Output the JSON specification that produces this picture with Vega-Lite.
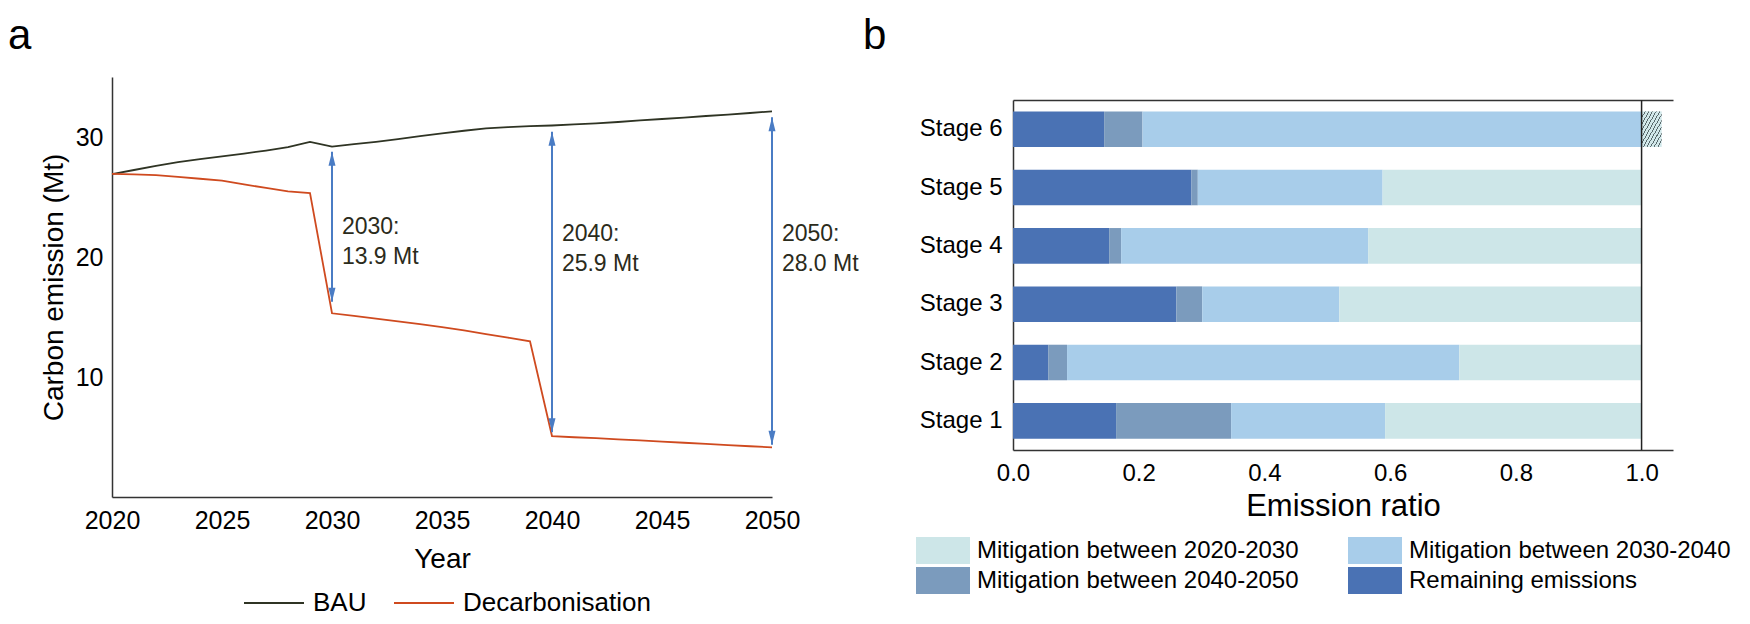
{
  "$schema": "https://vega.github.io/schema/vega-lite/v6.json",
  "padding": {"left": 8, "top": 14, "right": 0, "bottom": 0},
  "background": "white",
  "config": {
    "font": "Liberation Sans",
    "view": {"stroke": null},
    "axis": {"labelColor": "#000", "titleColor": "#000", "grid": false, "ticks": false, "domainColor": "#333", "domainWidth": 1.5, "titleFontWeight": "normal"},
    "legend": {"labelColor": "#000", "labelLimit": 500},
    "title": {"color": "#000", "fontWeight": "normal"}
  },
  "resolve": {"scale": {"color": "independent"}, "legend": {"color": "independent"}},
  "spacing": 4,
  "hconcat": [
    {
      "title": {"text": "a", "fontSize": 42, "anchor": "start", "frame": "group", "dx": -104, "offset": -14, "baseline": "alphabetic"},
      "width": 660,
      "height": 420,
      "layer": [
        {
          "data": {"values": [
            {"year": 2020, "value": 26.9, "series": "BAU"},
            {"year": 2021, "value": 27.25, "series": "BAU"},
            {"year": 2022, "value": 27.6, "series": "BAU"},
            {"year": 2023, "value": 27.9, "series": "BAU"},
            {"year": 2024, "value": 28.15, "series": "BAU"},
            {"year": 2025, "value": 28.38, "series": "BAU"},
            {"year": 2026, "value": 28.62, "series": "BAU"},
            {"year": 2027, "value": 28.87, "series": "BAU"},
            {"year": 2028, "value": 29.15, "series": "BAU"},
            {"year": 2029, "value": 29.6, "series": "BAU"},
            {"year": 2030, "value": 29.2, "series": "BAU"},
            {"year": 2031, "value": 29.4, "series": "BAU"},
            {"year": 2032, "value": 29.6, "series": "BAU"},
            {"year": 2033, "value": 29.83, "series": "BAU"},
            {"year": 2034, "value": 30.07, "series": "BAU"},
            {"year": 2035, "value": 30.3, "series": "BAU"},
            {"year": 2036, "value": 30.52, "series": "BAU"},
            {"year": 2037, "value": 30.72, "series": "BAU"},
            {"year": 2038, "value": 30.82, "series": "BAU"},
            {"year": 2039, "value": 30.9, "series": "BAU"},
            {"year": 2040, "value": 30.96, "series": "BAU"},
            {"year": 2041, "value": 31.05, "series": "BAU"},
            {"year": 2042, "value": 31.14, "series": "BAU"},
            {"year": 2043, "value": 31.25, "series": "BAU"},
            {"year": 2044, "value": 31.38, "series": "BAU"},
            {"year": 2045, "value": 31.5, "series": "BAU"},
            {"year": 2046, "value": 31.62, "series": "BAU"},
            {"year": 2047, "value": 31.75, "series": "BAU"},
            {"year": 2048, "value": 31.87, "series": "BAU"},
            {"year": 2049, "value": 32.0, "series": "BAU"},
            {"year": 2050, "value": 32.14, "series": "BAU"},
            {"year": 2020, "value": 26.92, "series": "Decarbonisation"},
            {"year": 2021, "value": 26.88, "series": "Decarbonisation"},
            {"year": 2022, "value": 26.83, "series": "Decarbonisation"},
            {"year": 2023, "value": 26.68, "series": "Decarbonisation"},
            {"year": 2024, "value": 26.52, "series": "Decarbonisation"},
            {"year": 2025, "value": 26.36, "series": "Decarbonisation"},
            {"year": 2026, "value": 26.05, "series": "Decarbonisation"},
            {"year": 2027, "value": 25.76, "series": "Decarbonisation"},
            {"year": 2028, "value": 25.47, "series": "Decarbonisation"},
            {"year": 2029, "value": 25.33, "series": "Decarbonisation"},
            {"year": 2030, "value": 15.31, "series": "Decarbonisation"},
            {"year": 2031, "value": 15.1, "series": "Decarbonisation"},
            {"year": 2032, "value": 14.87, "series": "Decarbonisation"},
            {"year": 2033, "value": 14.64, "series": "Decarbonisation"},
            {"year": 2034, "value": 14.4, "series": "Decarbonisation"},
            {"year": 2035, "value": 14.15, "series": "Decarbonisation"},
            {"year": 2036, "value": 13.88, "series": "Decarbonisation"},
            {"year": 2037, "value": 13.58, "series": "Decarbonisation"},
            {"year": 2038, "value": 13.28, "series": "Decarbonisation"},
            {"year": 2039, "value": 12.97, "series": "Decarbonisation"},
            {"year": 2040, "value": 5.08, "series": "Decarbonisation"},
            {"year": 2041, "value": 4.98, "series": "Decarbonisation"},
            {"year": 2042, "value": 4.9, "series": "Decarbonisation"},
            {"year": 2043, "value": 4.8, "series": "Decarbonisation"},
            {"year": 2044, "value": 4.72, "series": "Decarbonisation"},
            {"year": 2045, "value": 4.62, "series": "Decarbonisation"},
            {"year": 2046, "value": 4.52, "series": "Decarbonisation"},
            {"year": 2047, "value": 4.42, "series": "Decarbonisation"},
            {"year": 2048, "value": 4.33, "series": "Decarbonisation"},
            {"year": 2049, "value": 4.23, "series": "Decarbonisation"},
            {"year": 2050, "value": 4.14, "series": "Decarbonisation"}
          ]},
          "mark": {"type": "line", "strokeWidth": 1.8},
          "encoding": {
            "x": {"field": "year", "type": "quantitative", "scale": {"domain": [2020, 2050], "nice": false, "zero": false},
                  "axis": {"title": "Year", "values": [2020, 2025, 2030, 2035, 2040, 2045, 2050], "format": "d", "labelFontSize": 25, "labelPadding": 11, "titleFontSize": 28, "titlePadding": 12, "labelFlush": false}},
            "y": {"field": "value", "type": "quantitative", "scale": {"domain": [0, 35], "nice": false},
                  "axis": {"title": "Carbon emission (Mt)", "values": [10, 20, 30], "labelFontSize": 25, "labelPadding": 9, "titleFontSize": 28, "titlePadding": 7}},
            "color": {"field": "series", "type": "nominal",
                      "scale": {"domain": ["BAU", "Decarbonisation"], "range": ["#2f3424", "#cf4a1f"]},
                      "legend": {"title": null, "orient": "none", "legendX": 131, "legendY": 495, "direction": "horizontal",
                                 "symbolType": "stroke", "symbolSize": 3600, "symbolStrokeWidth": 2, "labelFontSize": 26,
                                 "labelOffset": 8, "columnPadding": 23}}
          }
        },
        {
          "data": {"values": [
            {"year": 2030, "lo": 16.28, "hi": 28.78},
            {"year": 2040, "lo": 5.39, "hi": 30.44},
            {"year": 2050, "lo": 4.36, "hi": 31.64}
          ]},
          "layer": [
            {"mark": {"type": "rule", "color": "#4a7cc4", "strokeWidth": 2},
             "encoding": {"x": {"field": "year", "type": "quantitative"}, "y": {"field": "lo", "type": "quantitative"}, "y2": {"field": "hi"}}},
            {"mark": {"type": "point", "shape": "M0,0L0.5,2L-0.5,2Z", "filled": true, "opacity": 1, "color": "#4a7cc4", "size": 196},
             "encoding": {"x": {"field": "year", "type": "quantitative"}, "y": {"field": "hi", "type": "quantitative"}}},
            {"mark": {"type": "point", "shape": "M0,0L0.5,-2L-0.5,-2Z", "filled": true, "opacity": 1, "color": "#4a7cc4", "size": 196},
             "encoding": {"x": {"field": "year", "type": "quantitative"}, "y": {"field": "lo", "type": "quantitative"}}}
          ]
        },
        {
          "data": {"values": [
            {"year": 2030.45, "value": 23.44, "t": ["2030:", "13.9 Mt"]},
            {"year": 2040.45, "value": 22.85, "t": ["2040:", "25.9 Mt"]},
            {"year": 2050.45, "value": 22.85, "t": ["2050:", "28.0 Mt"]}
          ]},
          "mark": {"type": "text", "align": "left", "baseline": "top", "fontSize": 23, "lineHeight": 30, "color": "#2b2b1b"},
          "encoding": {
            "x": {"field": "year", "type": "quantitative"},
            "y": {"field": "value", "type": "quantitative"},
            "text": {"field": "t"}
          }
        }
      ]
    },
    {
      "spacing": 0,
      "vconcat": [
        {
          "title": {"text": "b", "fontSize": 42, "anchor": "start", "frame": "group", "dx": -150, "offset": -14, "baseline": "alphabetic"},
          "width": 660,
          "height": 22,
          "data": {"values": [{"k": 1}]},
          "mark": {"type": "rule", "opacity": 0},
          "encoding": {}
        },
        {
          "width": 660,
          "height": 350,
          "layer": [
            {
              "data": {"values": [
                {"stage": "Stage 1", "category": "Remaining emissions", "start": 0, "end": 0.164},
                {"stage": "Stage 1", "category": "Mitigation between 2040-2050", "start": 0.164, "end": 0.347},
                {"stage": "Stage 1", "category": "Mitigation between 2030-2040", "start": 0.347, "end": 0.592},
                {"stage": "Stage 1", "category": "Mitigation between 2020-2030", "start": 0.592, "end": 1.0},
                {"stage": "Stage 2", "category": "Remaining emissions", "start": 0, "end": 0.056},
                {"stage": "Stage 2", "category": "Mitigation between 2040-2050", "start": 0.056, "end": 0.086},
                {"stage": "Stage 2", "category": "Mitigation between 2030-2040", "start": 0.086, "end": 0.71},
                {"stage": "Stage 2", "category": "Mitigation between 2020-2030", "start": 0.71, "end": 1.0},
                {"stage": "Stage 3", "category": "Remaining emissions", "start": 0, "end": 0.26},
                {"stage": "Stage 3", "category": "Mitigation between 2040-2050", "start": 0.26, "end": 0.301},
                {"stage": "Stage 3", "category": "Mitigation between 2030-2040", "start": 0.301, "end": 0.519},
                {"stage": "Stage 3", "category": "Mitigation between 2020-2030", "start": 0.519, "end": 1.0},
                {"stage": "Stage 4", "category": "Remaining emissions", "start": 0, "end": 0.153},
                {"stage": "Stage 4", "category": "Mitigation between 2040-2050", "start": 0.153, "end": 0.172},
                {"stage": "Stage 4", "category": "Mitigation between 2030-2040", "start": 0.172, "end": 0.565},
                {"stage": "Stage 4", "category": "Mitigation between 2020-2030", "start": 0.565, "end": 1.0},
                {"stage": "Stage 5", "category": "Remaining emissions", "start": 0, "end": 0.284},
                {"stage": "Stage 5", "category": "Mitigation between 2040-2050", "start": 0.284, "end": 0.294},
                {"stage": "Stage 5", "category": "Mitigation between 2030-2040", "start": 0.294, "end": 0.588},
                {"stage": "Stage 5", "category": "Mitigation between 2020-2030", "start": 0.588, "end": 1.0},
                {"stage": "Stage 6", "category": "Remaining emissions", "start": 0, "end": 0.145},
                {"stage": "Stage 6", "category": "Mitigation between 2040-2050", "start": 0.145, "end": 0.206},
                {"stage": "Stage 6", "category": "Mitigation between 2030-2040", "start": 0.206, "end": 1.0}
              ]},
              "mark": {"type": "bar"},
              "encoding": {
                "y": {"field": "stage", "type": "nominal", "sort": ["Stage 6", "Stage 5", "Stage 4", "Stage 3", "Stage 2", "Stage 1"],
                      "scale": {"paddingInner": 0.39, "paddingOuter": 0.195},
                      "axis": {"title": null, "labelFontSize": 24, "labelPadding": 11}},
                "x": {"field": "start", "type": "quantitative", "scale": {"domain": [0, 1.05], "nice": false},
                      "axis": {"title": "Emission ratio", "values": [0, 0.2, 0.4, 0.6, 0.8, 1.0], "format": ".1f", "labelFontSize": 24, "labelPadding": 11, "titleFontSize": 31, "titlePadding": 6, "labelFlush": false}},
                "x2": {"field": "end"},
                "color": {"field": "category", "type": "nominal",
                          "scale": {"domain": ["Mitigation between 2020-2030", "Mitigation between 2030-2040", "Mitigation between 2040-2050", "Remaining emissions"],
                                    "range": ["#cde6e8", "#a8cdea", "#7b9bbd", "#4a72b4"]},
                          "legend": {"title": null, "orient": "none", "legendX": -97, "legendY": 460, "columns": 2, "direction": "horizontal",
                                     "symbolType": "M-1,-1H3V1H-1Z", "symbolSize": 729, "symbolStrokeWidth": 0, "symbolOpacity": 1,
                                     "labelFontSize": 24, "labelOffset": 34, "columnPadding": 49, "rowPadding": 3}}
              }
            },
            {
              "data": {"values": [{"stage": "Stage 6", "start": 1.0, "end": 1.032}]},
              "mark": {"type": "bar", "color": {"gradient": "linear", "x1": 0, "y1": 0, "x2": 1, "y2": 1, "stops": [
                {"offset": 0, "color": "#d2e8ea"},
                {"offset": 0.08, "color": "#d2e8ea"}, {"offset": 0.08, "color": "#5b6b6e"}, {"offset": 0.105, "color": "#5b6b6e"}, {"offset": 0.105, "color": "#d2e8ea"},
                {"offset": 0.17, "color": "#d2e8ea"}, {"offset": 0.17, "color": "#5b6b6e"}, {"offset": 0.195, "color": "#5b6b6e"}, {"offset": 0.195, "color": "#d2e8ea"},
                {"offset": 0.26, "color": "#d2e8ea"}, {"offset": 0.26, "color": "#5b6b6e"}, {"offset": 0.285, "color": "#5b6b6e"}, {"offset": 0.285, "color": "#d2e8ea"},
                {"offset": 0.35, "color": "#d2e8ea"}, {"offset": 0.35, "color": "#5b6b6e"}, {"offset": 0.375, "color": "#5b6b6e"}, {"offset": 0.375, "color": "#d2e8ea"},
                {"offset": 0.44, "color": "#d2e8ea"}, {"offset": 0.44, "color": "#5b6b6e"}, {"offset": 0.465, "color": "#5b6b6e"}, {"offset": 0.465, "color": "#d2e8ea"},
                {"offset": 0.53, "color": "#d2e8ea"}, {"offset": 0.53, "color": "#5b6b6e"}, {"offset": 0.555, "color": "#5b6b6e"}, {"offset": 0.555, "color": "#d2e8ea"},
                {"offset": 0.62, "color": "#d2e8ea"}, {"offset": 0.62, "color": "#5b6b6e"}, {"offset": 0.645, "color": "#5b6b6e"}, {"offset": 0.645, "color": "#d2e8ea"},
                {"offset": 0.71, "color": "#d2e8ea"}, {"offset": 0.71, "color": "#5b6b6e"}, {"offset": 0.735, "color": "#5b6b6e"}, {"offset": 0.735, "color": "#d2e8ea"},
                {"offset": 0.8, "color": "#d2e8ea"}, {"offset": 0.8, "color": "#5b6b6e"}, {"offset": 0.825, "color": "#5b6b6e"}, {"offset": 0.825, "color": "#d2e8ea"},
                {"offset": 0.89, "color": "#d2e8ea"}, {"offset": 0.89, "color": "#5b6b6e"}, {"offset": 0.915, "color": "#5b6b6e"}, {"offset": 0.915, "color": "#d2e8ea"},
                {"offset": 1, "color": "#d2e8ea"}
              ]}},
              "encoding": {
                "y": {"field": "stage", "type": "nominal", "sort": ["Stage 6", "Stage 5", "Stage 4", "Stage 3", "Stage 2", "Stage 1"]},
                "x": {"field": "start", "type": "quantitative", "axis": null},
                "x2": {"field": "end"}
              }
            },
            {
              "data": {"values": [{"start": 1.0}]},
              "mark": {"type": "rule", "color": "#222", "strokeWidth": 1.5},
              "encoding": {
                "x": {"field": "start", "type": "quantitative",
                      "axis": {"orient": "top", "labels": false, "ticks": false, "title": null, "domain": true}}
              }
            }
          ],
          "resolve": {"axis": {"x": "independent"}}
        }
      ]
    }
  ]
}
